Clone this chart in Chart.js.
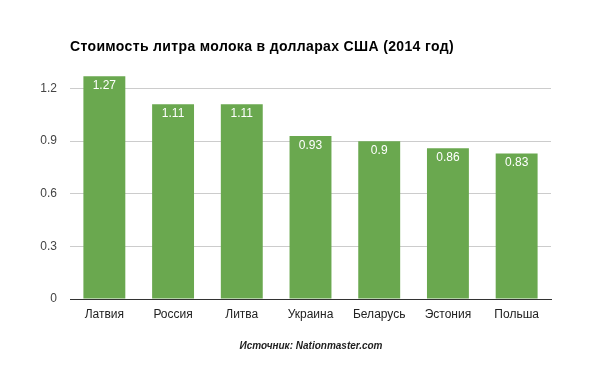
<!DOCTYPE html>
<html>
<head>
<meta charset="utf-8">
<script src="https://cdn.jsdelivr.net/npm/chart.js@4.4.0/dist/chart.umd.min.js"></script>
<style>
  html, body { margin: 0; padding: 0; background: #fff; }
  #wrap { width: 594px; height: 371px; position: relative; }
</style>
</head>
<body>
<div id="wrap"><canvas id="chart"></canvas></div>
<script>
const countries = ['Латвия', 'Россия', 'Литва', 'Украина', 'Беларусь', 'Эстония', 'Польша'];
const prices = [1.27, 1.11, 1.11, 0.93, 0.9, 0.86, 0.83];
const yTicks = [0, 0.3, 0.6, 0.9, 1.2];
const titleText = 'Стоимость литра молока в долларах США (2014 год)';
const sourceText = 'Источник: Nationmaster.com';

const FONT = '"Liberation Sans", Arial, sans-serif';

// Title, source line and value labels inside the bars
const textPlugin = {
    id: 'textPlugin',
    afterDatasetsDraw(chart) {
        const ctx = chart.ctx;
        const meta = chart.getDatasetMeta(0);
        ctx.save();
        ctx.fillStyle = '#ffffff';
        ctx.font = '12px ' + FONT;
        ctx.textAlign = 'center';
        ctx.textBaseline = 'alphabetic';
        meta.data.forEach((bar, i) => {
            ctx.fillText(String(prices[i]), bar.x, bar.y + 13);
        });
        ctx.restore();
    },
    afterDraw(chart) {
        const ctx = chart.ctx;
        ctx.save();
        ctx.fillStyle = '#000000';
        ctx.font = 'bold 14px ' + FONT;
        ctx.letterSpacing = '0.35px';
        ctx.textAlign = 'left';
        ctx.textBaseline = 'alphabetic';
        ctx.fillText(titleText, chart.chartArea.left, 51);

        ctx.letterSpacing = '0px';
        ctx.fillStyle = '#222222';
        ctx.font = 'italic bold 10px ' + FONT;
        ctx.textAlign = 'center';
        ctx.fillText(sourceText, 311, 349);
        ctx.restore();
    }
};

const ctx = document.getElementById('chart').getContext('2d');
new Chart(ctx, {
    type: 'bar',
    data: {
        labels: countries,
        datasets: [{
            data: prices,
            backgroundColor: '#6aa84f',
            borderWidth: 0,
            categoryPercentage: 1,
            barPercentage: 0.61
        }]
    },
    options: {
        responsive: true,
        maintainAspectRatio: false,
        animation: false,
        devicePixelRatio: 1,
        layout: {
            padding: { left: 0, right: 43, top: 71, bottom: 42 }
        },
        plugins: {
            legend: { display: false },
            tooltip: { enabled: false },
            title: { display: false }
        },
        scales: {
            x: {
                grid: { display: false, drawTicks: false },
                border: { display: true, color: '#333333', width: 1 },
                ticks: {
                    color: '#222222',
                    font: { family: FONT, size: 12 },
                    padding: 8,
                    maxRotation: 0
                },
                afterFit(scale) { scale.height = 30; }
            },
            y: {
                min: 0,
                max: 1.3,
                afterBuildTicks(scale) {
                    scale.ticks = yTicks.map(v => ({ value: v }));
                },
                grid: { color: '#cccccc', drawTicks: false },
                border: { display: false },
                ticks: {
                    color: '#444444',
                    font: { family: FONT, size: 12 },
                    padding: 13,
                    callback: v => String(v)
                },
                afterFit(scale) { scale.width = 70; }
            }
        }
    },
    plugins: [textPlugin]
});
</script>
</body>
</html>
